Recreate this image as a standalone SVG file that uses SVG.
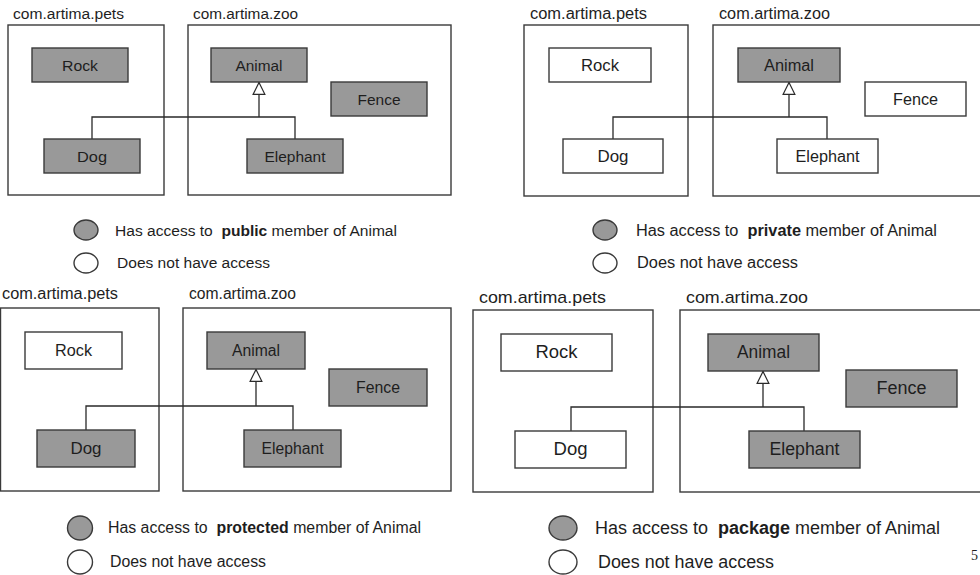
<svg xmlns="http://www.w3.org/2000/svg" width="980" height="575" viewBox="0 0 980 575">
  <style>
    text { font-family: "Liberation Sans", Arial, sans-serif; fill: #1e1e1e; }
    .pkg { fill: #ffffff; stroke: #3a3a3a; stroke-width: 1.4; }
    .on { fill: #999999; stroke: #3a3a3a; stroke-width: 1.4; }
    .off { fill: #ffffff; stroke: #3a3a3a; stroke-width: 1.4; }
    .lbl { text-anchor: middle; }
    .wire { fill: none; stroke: #2a2a2a; stroke-width: 1.3; }
    .gen { fill: none; stroke: #2a2a2a; stroke-width: 1.3; marker-end: url(#hollow); }
    .b { font-weight: bold; }
  </style>
  <defs>
    <!-- hollow generalization triangle -->
    <marker id="hollow" viewBox="0 0 14 14" refX="14" refY="7" markerWidth="13" markerHeight="14" markerUnits="userSpaceOnUse" orient="auto">
      <path d="M0.7,0.7 L13.5,7 L0.7,13.3 Z" fill="#ffffff" stroke="#2a2a2a" stroke-width="1.3"/>
    </marker>
  </defs>
  <rect width="980" height="575" fill="#ffffff"/>

  <!-- ===== public ===== -->
  <g id="q1-pets">
    <rect class="pkg" x="8" y="25" width="156" height="170"/>
    <text x="13" y="19" font-size="15.5" textLength="111" lengthAdjust="spacingAndGlyphs">com.artima.pets</text>
  </g>
  <g id="q1-zoo">
    <rect class="pkg" x="188" y="25" width="263" height="170"/>
    <text x="193" y="19" font-size="15.5" textLength="105" lengthAdjust="spacingAndGlyphs">com.artima.zoo</text>
  </g>
  <g id="q1-connectors">
    <path class="wire" d="M92,139 V117 H295 V139"/>
    <path class="gen" d="M259,117 V82"/>
  </g>
  <g id="q1-rock"><rect class="on" x="32" y="48" width="96" height="34"/><text class="lbl" x="80" y="70.5" font-size="15.5" textLength="36" lengthAdjust="spacingAndGlyphs">Rock</text></g>
  <g id="q1-animal"><rect class="on" x="211" y="48" width="96" height="34"/><text class="lbl" x="259" y="70.5" font-size="15.5" textLength="47" lengthAdjust="spacingAndGlyphs">Animal</text></g>
  <g id="q1-fence"><rect class="on" x="331" y="82" width="96" height="34"/><text class="lbl" x="379" y="104.5" font-size="15.5" textLength="43" lengthAdjust="spacingAndGlyphs">Fence</text></g>
  <g id="q1-dog"><rect class="on" x="44" y="139" width="96" height="34"/><text class="lbl" x="92" y="161.5" font-size="15.5" textLength="30" lengthAdjust="spacingAndGlyphs">Dog</text></g>
  <g id="q1-elephant"><rect class="on" x="247" y="139" width="96" height="34"/><text class="lbl" x="295" y="161.5" font-size="15.5" textLength="61" lengthAdjust="spacingAndGlyphs">Elephant</text></g>
  <g id="q1-legend">
    <ellipse class="on" cx="86" cy="230" rx="12" ry="10"/>
    <text x="115" y="236" font-size="15.5" textLength="282" lengthAdjust="spacingAndGlyphs">Has access to&#160; <tspan class="b">public</tspan> member of Animal</text>
    <ellipse class="off" cx="86" cy="263" rx="12" ry="10"/>
    <text x="117" y="268" font-size="15.5" textLength="153" lengthAdjust="spacingAndGlyphs">Does not have access</text>
  </g>

  <!-- ===== private ===== -->
  <g id="q2-pets">
    <rect class="pkg" x="524" y="25" width="164" height="171"/>
    <text x="530" y="19" font-size="16" textLength="117" lengthAdjust="spacingAndGlyphs">com.artima.pets</text>
  </g>
  <g id="q2-zoo">
    <rect class="pkg" x="713" y="25" width="280" height="171"/>
    <text x="719" y="19" font-size="16" textLength="111" lengthAdjust="spacingAndGlyphs">com.artima.zoo</text>
  </g>
  <g id="q2-connectors">
    <path class="wire" d="M613,139 V117 H827 V139"/>
    <path class="gen" d="M789,117 V82"/>
  </g>
  <g id="q2-rock"><rect class="off" x="549" y="48" width="102" height="34"/><text class="lbl" x="600" y="70.5" font-size="16" textLength="38" lengthAdjust="spacingAndGlyphs">Rock</text></g>
  <g id="q2-animal"><rect class="on" x="738" y="48" width="102" height="34"/><text class="lbl" x="789" y="70.5" font-size="16" textLength="50" lengthAdjust="spacingAndGlyphs">Animal</text></g>
  <g id="q2-fence"><rect class="off" x="865" y="82" width="101" height="34"/><text class="lbl" x="915.5" y="104.5" font-size="16" textLength="45" lengthAdjust="spacingAndGlyphs">Fence</text></g>
  <g id="q2-dog"><rect class="off" x="563" y="139" width="100" height="34"/><text class="lbl" x="613" y="161.5" font-size="16" textLength="31" lengthAdjust="spacingAndGlyphs">Dog</text></g>
  <g id="q2-elephant"><rect class="off" x="777" y="139" width="101" height="34"/><text class="lbl" x="827.5" y="161.5" font-size="16" textLength="64" lengthAdjust="spacingAndGlyphs">Elephant</text></g>
  <g id="q2-legend">
    <ellipse class="on" cx="605" cy="230" rx="12" ry="10"/>
    <text x="636" y="236" font-size="16" textLength="301" lengthAdjust="spacingAndGlyphs">Has access to&#160; <tspan class="b">private</tspan> member of Animal</text>
    <ellipse class="off" cx="605" cy="263" rx="12" ry="10"/>
    <text x="637" y="268" font-size="16" textLength="161" lengthAdjust="spacingAndGlyphs">Does not have access</text>
  </g>

  <!-- ===== protected ===== -->
  <g id="q3-pets">
    <rect class="pkg" x="0.5" y="308" width="158.5" height="183"/>
    <text x="2" y="299" font-size="16" textLength="116" lengthAdjust="spacingAndGlyphs">com.artima.pets</text>
  </g>
  <g id="q3-zoo">
    <rect class="pkg" x="183" y="308" width="268" height="183"/>
    <text x="189" y="299" font-size="16" textLength="107" lengthAdjust="spacingAndGlyphs">com.artima.zoo</text>
  </g>
  <g id="q3-connectors">
    <path class="wire" d="M86,430 V406 H293 V430"/>
    <path class="gen" d="M256,406 V369"/>
  </g>
  <g id="q3-rock"><rect class="off" x="25" y="332" width="97" height="37"/><text class="lbl" x="73.5" y="355.5" font-size="16" textLength="37" lengthAdjust="spacingAndGlyphs">Rock</text></g>
  <g id="q3-animal"><rect class="on" x="207" y="332" width="98" height="37"/><text class="lbl" x="256" y="355.5" font-size="16" textLength="48" lengthAdjust="spacingAndGlyphs">Animal</text></g>
  <g id="q3-fence"><rect class="on" x="329" y="369" width="98" height="37"/><text class="lbl" x="378" y="392.5" font-size="16" textLength="44" lengthAdjust="spacingAndGlyphs">Fence</text></g>
  <g id="q3-dog"><rect class="on" x="37" y="430" width="98" height="37"/><text class="lbl" x="86" y="453.5" font-size="16" textLength="31" lengthAdjust="spacingAndGlyphs">Dog</text></g>
  <g id="q3-elephant"><rect class="on" x="244" y="430" width="97" height="37"/><text class="lbl" x="292.5" y="453.5" font-size="16" textLength="62" lengthAdjust="spacingAndGlyphs">Elephant</text></g>
  <g id="q3-legend">
    <ellipse class="on" cx="80" cy="528" rx="12.5" ry="12"/>
    <text x="108" y="533" font-size="16" textLength="313" lengthAdjust="spacingAndGlyphs">Has access to&#160; <tspan class="b">protected</tspan> member of Animal</text>
    <ellipse class="off" cx="80" cy="562" rx="12.5" ry="12"/>
    <text x="110" y="567" font-size="16" textLength="156" lengthAdjust="spacingAndGlyphs">Does not have access</text>
  </g>

  <!-- ===== package ===== -->
  <g id="q4-pets">
    <rect class="pkg" x="473" y="310" width="180" height="182"/>
    <text x="479" y="303" font-size="17" textLength="127" lengthAdjust="spacingAndGlyphs">com.artima.pets</text>
  </g>
  <g id="q4-zoo">
    <rect class="pkg" x="680" y="310" width="313" height="182"/>
    <text x="686" y="303" font-size="17" textLength="122" lengthAdjust="spacingAndGlyphs">com.artima.zoo</text>
  </g>
  <g id="q4-connectors">
    <path class="wire" d="M571,431 V407 H804 V431"/>
    <path class="gen" d="M763,407 V371"/>
  </g>
  <g id="q4-rock"><rect class="off" x="501" y="334" width="111" height="37"/><text class="lbl" x="556.5" y="358" font-size="17.5" textLength="42" lengthAdjust="spacingAndGlyphs">Rock</text></g>
  <g id="q4-animal"><rect class="on" x="708" y="334" width="111" height="37"/><text class="lbl" x="763.5" y="358" font-size="17.5" textLength="53" lengthAdjust="spacingAndGlyphs">Animal</text></g>
  <g id="q4-fence"><rect class="on" x="846" y="370" width="111" height="37"/><text class="lbl" x="901.5" y="394" font-size="17.5" textLength="50" lengthAdjust="spacingAndGlyphs">Fence</text></g>
  <g id="q4-dog"><rect class="off" x="515" y="431" width="111" height="37"/><text class="lbl" x="570.5" y="455" font-size="17.5" textLength="34" lengthAdjust="spacingAndGlyphs">Dog</text></g>
  <g id="q4-elephant"><rect class="on" x="749" y="431" width="111" height="37"/><text class="lbl" x="804.5" y="455" font-size="17.5" textLength="70" lengthAdjust="spacingAndGlyphs">Elephant</text></g>
  <g id="q4-legend">
    <ellipse class="on" cx="563" cy="528" rx="14" ry="12"/>
    <text x="595" y="534" font-size="17.5" textLength="345" lengthAdjust="spacingAndGlyphs">Has access to&#160; <tspan class="b">package</tspan> member of Animal</text>
    <ellipse class="off" cx="563" cy="562" rx="14" ry="12"/>
    <text x="598" y="568" font-size="17.5" textLength="176" lengthAdjust="spacingAndGlyphs">Does not have access</text>
  </g>

  <!-- page number -->
  <text x="971" y="560" font-size="14" style="font-family: 'Liberation Serif', 'Times New Roman', serif;">5</text>
</svg>
